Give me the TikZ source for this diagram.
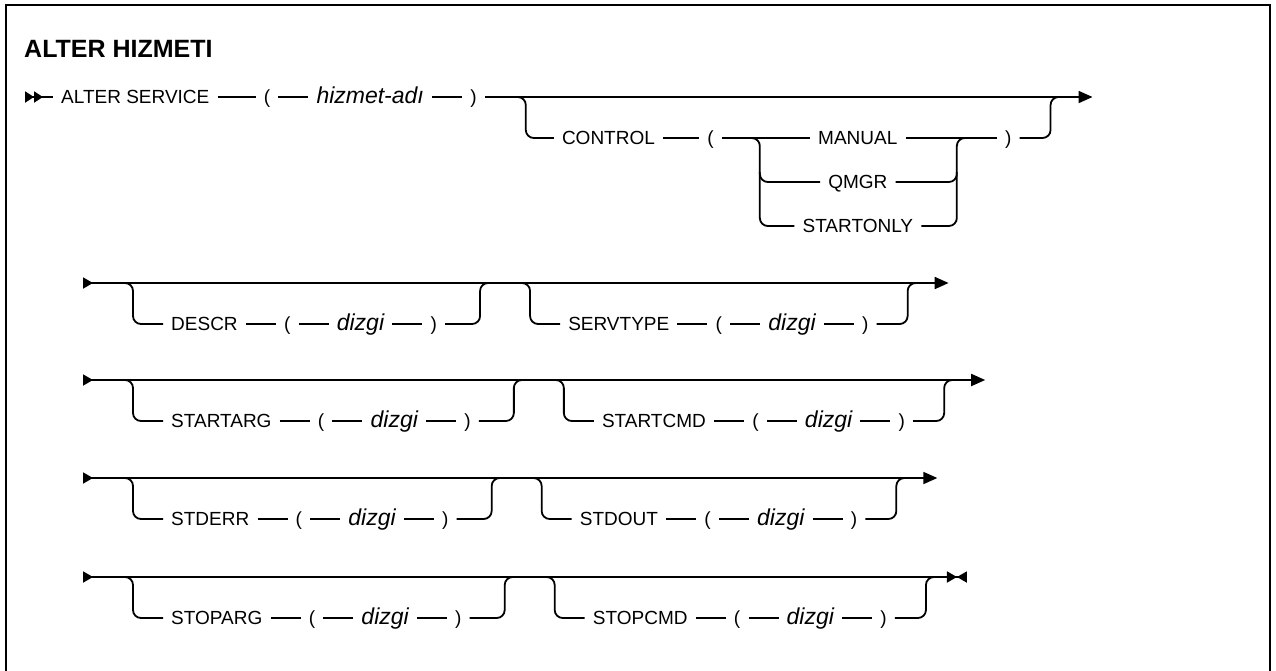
\documentclass[tikz,border=0pt]{standalone}
\usepackage{fontspec}
\setmainfont{Liberation Sans}
\usepackage{tikz}
\usetikzlibrary{arrows.meta,positioning,calc}
\newcommand\kwfont{\fontsize{19}{22}\selectfont}
\newcommand\varfont{\fontsize{23}{26}\selectfont\itshape}

\begin{document}
\begin{tikzpicture}[x=1pt, y=-1pt,
    kw/.style={inner xsep=8pt, inner ysep=0pt, text height=13.5pt,
        text depth=0pt, font=\kwfont},
    var/.style={kw, font=\varfont},
    heading/.style={inner sep=0pt, font=\fontsize{25}{28}\selectfont\bfseries},
    rail/.style={line width=1.8pt},
    railbend/.style={rail, rounded corners=8pt}
]
    \useasboundingbox (0,0) rectangle (1276,670);
    \draw[line width=2.5pt] (6,672) -- (6,5) -- (1270,5) -- (1270,672);

    \node[heading, anchor=base west] (title) at (24,57) {ALTER HIZMETI};

    % First row: command and CONTROL choice
    \coordinate (s1) at (25,97);
    \node[kw, right=28pt of s1] (alter) {ALTER SERVICE};
    \node[kw, right=38pt of alter] (lp1) {(};
    \node[var, right=30pt of lp1] (name) {hizmet-adı};
    \node[kw, right=30pt of name] (rp1) {)};
    \coordinate[right=41pt of rp1] (oc);
    \coordinate (bc) at ($(oc)+(0,41)$);
    \node[kw, right=28pt of bc] (control) {CONTROL};
    \node[kw, right=36pt of control] (lpc) {(};
    \coordinate[right=38pt of lpc] (osplit);
    \node[kw] (manual) at ($(osplit)+(98,0)$) {MANUAL};
    \node[kw] (qmgr) at ($(manual)+(0,44)$) {QMGR};
    \node[kw] (startonly) at ($(qmgr)+(0,44)$) {STARTONLY};
    \coordinate (ojoin) at ($(osplit)+(197,0)$);
    \node[kw, right=40pt of ojoin] (rpc) {)};
    \coordinate[right=31pt of rpc] (cj);
    \coordinate (cm) at (cj |- rp1);
    \coordinate[right=42pt of cm] (e1);

    \draw[rail, {Triangle[reversed, length=9pt, width=11pt, sep=0pt]
        Triangle[reversed, length=9pt, width=11pt]}-] (s1) -- (alter);
    \draw[rail] (alter) -- (lp1) -- (name) -- (rp1);
    \draw[rail, -{Triangle[length=14pt, width=12pt]}] (rp1) -- (e1);
    \draw[railbend] ([xshift=-10pt]oc) -- (oc) -- (bc) -- (control);
    \draw[rail] (control) -- (lpc) -- (manual) -- (rpc);
    \draw[railbend] ([xshift=-10pt]osplit) -- (osplit) -- (osplit |- startonly) -- (startonly);
    \draw[railbend] ([yshift=10pt]osplit |- qmgr) -- (osplit |- qmgr) -- (qmgr);
    \draw[railbend] (startonly) -- (ojoin |- startonly) -- (ojoin) -- ([xshift=10pt]ojoin);
    \draw[railbend] (qmgr) -- (ojoin |- qmgr) -- ([yshift=10pt]ojoin |- qmgr);
    \draw[railbend] (rpc) -- (cj) -- (cm) -- ([xshift=10pt]cm);

    % Optional keyword pairs, one row each
    \foreach \r/\yy/\ka/\kb in {2/283/DESCR/SERVTYPE, 3/380/STARTARG/STARTCMD,
        4/478/STDERR/STDOUT, 5/577/STOPARG/STOPCMD} {
        \coordinate (s\r) at (83,\yy);
        \coordinate[right=50pt of s\r] (oa\r);
        \coordinate (ba\r) at ($(oa\r)+(0,41)$);
        \node[kw, right=30pt of ba\r] (ka\r) {\ka};
        \node[kw, right=30pt of ka\r] (la\r) {(};
        \node[var, right=30pt of la\r] (va\r) {dizgi};
        \node[kw, right=30pt of va\r] (ra\r) {)};
        \coordinate[right=35pt of ra\r] (ja\r);
        \coordinate (ma\r) at (ja\r |- s\r);
        \coordinate[right=50pt of ma\r] (ob\r);
        \coordinate (bb\r) at ($(ob\r)+(0,41)$);
        \node[kw, right=30pt of bb\r] (kb\r) {\kb};
        \node[kw, right=30pt of kb\r] (lb\r) {(};
        \node[var, right=30pt of lb\r] (vb\r) {dizgi};
        \node[kw, right=30pt of vb\r] (rb\r) {)};
        \coordinate[right=31pt of rb\r] (jb\r);
        \coordinate (mb\r) at (jb\r |- s\r);
        \coordinate[right=41pt of mb\r] (e\r);

        \draw[railbend] ([xshift=-10pt]oa\r) -- (oa\r) -- (ba\r) -- (ka\r);
        \draw[rail] (ka\r) -- (la\r) -- (va\r) -- (ra\r);
        \draw[railbend] (ra\r) -- (ja\r) -- (ma\r) -- ([xshift=10pt]ma\r);
        \draw[railbend] ([xshift=-10pt]ob\r) -- (ob\r) -- (bb\r) -- (kb\r);
        \draw[rail] (kb\r) -- (lb\r) -- (vb\r) -- (rb\r);
        \draw[railbend] (rb\r) -- (jb\r) -- (mb\r) -- ([xshift=10pt]mb\r);
    }
    \foreach \r in {2,3,4}
        \draw[rail, {Triangle[reversed, length=10pt, width=11pt]}-{Triangle[length=14pt, width=12pt]}]
            (s\r) -- (e\r);
    \draw[rail, {Triangle[reversed, length=10pt, width=11pt]}-{Triangle[length=10pt, width=11pt, sep=0pt]
        Triangle[reversed, length=10pt, width=11pt]}] (s5) -- (e5);
\end{tikzpicture}
\end{document}
